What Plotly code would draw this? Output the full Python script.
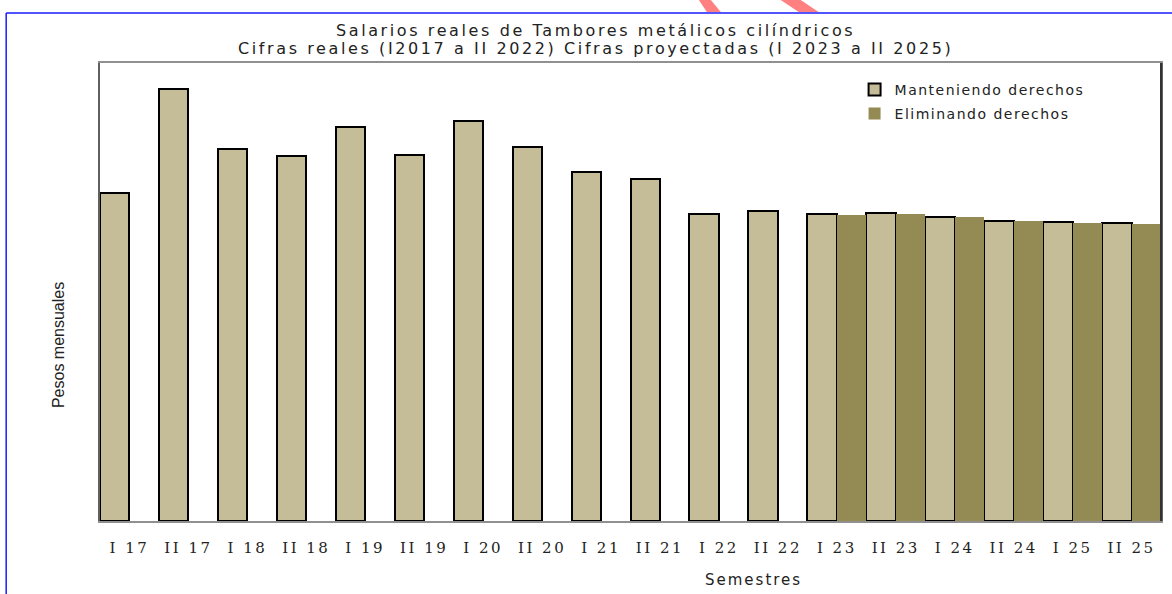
import plotly.graph_objects as go

semestres = ["I 17", "II 17", "I 18", "II 18", "I 19", "II 19", "I 20", "II 20", "I 21",
             "II 21", "I 22", "II 22", "I 23", "II 23", "I 24", "II 24", "I 25", "II 25"]
manteniendo = [328, 432, 372, 365, 394, 366, 400, 374, 349,
               342, 307, 310, 307, 308, 304, 300, 299, 298]
eliminando = [None] * 12 + [306, 307, 304, 300, 298, 297]

beige = "#C4BD97"
olivo = "#948A54"

# figure size and plot area in pixels
W, H = 1172, 594
L, R, T, B = 100, 1163, 63, 521


def px(x):
    return (x - L) / (R - L)


def py(y):
    return (B - y) / (B - T)


def spaced(s, sp):
    return f'<span style="letter-spacing:{sp}px">{s}</span>'


fig = go.Figure()
fig.add_trace(go.Bar(x=semestres, y=manteniendo, name=spaced("Manteniendo derechos", 1.5),
                     marker=dict(color=beige, line=dict(color="black", width=2)),
                     legend="legend", showlegend=True))
fig.add_trace(go.Bar(x=semestres, y=eliminando, name=spaced("Eliminando derechos", 1.5),
                     marker=dict(color=olivo, line=dict(color=olivo, width=0)),
                     legend="legend2", showlegend=True))

sans = "DejaVu Sans"
fig.update_layout(
    width=W, height=H,
    margin=dict(l=L, r=W - R, t=T, b=H - B),
    paper_bgcolor="white", plot_bgcolor="white",
    barmode="group", bargap=0, bargroupgap=0,
    font=dict(family=sans, color="black"),
    showlegend=True,
    legend=dict(x=px(856), y=py(90), xanchor="left", yanchor="middle",
                bgcolor="rgba(0,0,0,0)", font=dict(family=sans, size=14, color="#222")),
    legend2=dict(x=px(856), y=py(114), xanchor="left", yanchor="middle",
                 bgcolor="rgba(0,0,0,0)", font=dict(family=sans, size=14, color="#222")),
)
fig.update_xaxes(showline=True, linecolor="#909090", linewidth=1.5, mirror=True, ticks="",
                 tickvals=semestres, ticktext=[spaced(s, 2.5) for s in semestres],
                 ticklabelstandoff=12,
                 tickfont=dict(family="DejaVu Serif", size=15, color="#222"))
fig.update_yaxes(range=[0, B - T], showline=True, linecolor="#606060", linewidth=1.5,
                 mirror=True, showticklabels=False, showgrid=False, zeroline=False, ticks="")

titulo = ["Salarios reales de Tambores metálicos cilíndricos",
          "Cifras reales (I2017 a II 2022) Cifras proyectadas (I 2023 a II 2025)"]
for t, yy in zip(titulo, [30, 48]):
    fig.add_annotation(text=spaced(t, 2.6), xref="paper", yref="paper", x=px(596), y=py(yy),
                       xanchor="center", yanchor="middle", showarrow=False,
                       font=dict(family=sans, size=16, color="#222"))

fig.add_annotation(text=spaced("Semestres", 2), xref="paper", yref="paper", x=px(755), y=py(580),
                   xanchor="center", yanchor="middle", showarrow=False,
                   font=dict(family=sans, size=15, color="#222"))
fig.add_annotation(text="Pesos mensuales", xref="paper", yref="paper", x=px(58), y=py(345),
                   xanchor="center", yanchor="middle", textangle=-90, showarrow=False,
                   font=dict(family="Liberation Sans Narrow, Liberation Sans", size=16, color="#222"))

# darker right edge of the plot frame
fig.add_shape(type="line", xref="paper", yref="paper", x0=1, x1=1, y0=0, y1=1,
              line=dict(color="#333", width=2))
# blue frame of the page
fig.add_shape(type="line", xref="paper", yref="paper", x0=px(6), x1=px(1180), y0=py(13), y1=py(13),
              line=dict(color="#1a1aff", width=1.5))
fig.add_shape(type="line", xref="paper", yref="paper", x0=px(6), x1=px(6), y0=py(13), y1=py(600),
              line=dict(color="#1a1aff", width=1.5))
# watermark fragments
fig.add_shape(type="path", xref="paper", yref="paper",
              path=f"M {px(700)},{py(0)} L {px(712)},{py(0)} L {px(722)},{py(12)} L {px(708)},{py(12)} Z",
              fillcolor="#ff8080", line=dict(width=0))
fig.add_shape(type="path", xref="paper", yref="paper",
              path=f"M {px(782)},{py(0)} L {px(802)},{py(0)} L {px(820)},{py(12)} L {px(800)},{py(12)} Z",
              fillcolor="#ff8080", line=dict(width=0))

# no page margin, so the figure fills the window
fig.write_html("out.html", config={"displayModeBar": False},
               post_script="document.body.style.margin='0';")
